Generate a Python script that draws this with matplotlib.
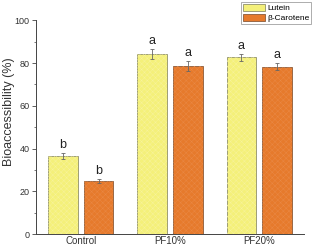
import numpy as np
import matplotlib
matplotlib.use('Agg')
from matplotlib import pyplot as plt

# data
groups = ['Control', 'PF10%', 'PF20%']
lutein = [36.5, 84.2, 82.7]
lutein_err = [1.3, 2.3, 1.7]
carotene = [24.8, 78.6, 78.3]
carotene_err = [1.0, 2.2, 1.5]
lutein_sig = ['b', 'a', 'a']
carotene_sig = ['b', 'a', 'a']

plt.rcParams['font.family'] = ['Liberation Sans', 'DejaVu Sans']
plt.rcParams['hatch.linewidth'] = 0.3

fig = plt.figure(figsize=(3.12, 2.47), dpi=100)
ax = fig.add_axes([0.1154, 0.0526, 0.8586, 0.8654])

x = np.arange(len(groups))
w = 0.33
off = 0.2

yellow = '#f4f07a'
orange = '#e67a2c'

b1 = ax.bar(x - off, lutein, w, color=yellow, edgecolor='#8f8f6a', linewidth=0.6,
            label='Lutein', zorder=2)
b2 = ax.bar(x + off, carotene, w, color=orange, edgecolor='#8a5a3a', linewidth=0.6,
            label='β-Carotene', zorder=2)
# fine texture on the bars
ax.bar(x - off, lutein, w, color='none', edgecolor='#f8f4a0', linewidth=0, hatch='xxxxxx', zorder=2.5)
ax.bar(x + off, carotene, w, color='none', edgecolor='#ea8a48', linewidth=0, hatch='xxxxxx', zorder=2.5)

ax.errorbar(x - off, lutein, yerr=lutein_err, fmt='none', ecolor='#666666',
            elinewidth=0.6, capsize=1.5, capthick=0.6, zorder=3)
ax.errorbar(x + off, carotene, yerr=carotene_err, fmt='none', ecolor='#666666',
            elinewidth=0.6, capsize=1.5, capthick=0.6, zorder=3)

for i in range(len(groups)):
    ax.annotate(lutein_sig[i], (x[i] - off, lutein[i] + lutein_err[i]), xytext=(0, 1.5),
                textcoords='offset points', ha='center', va='bottom', fontsize=9, color='#222222')
    ax.annotate(carotene_sig[i], (x[i] + off, carotene[i] + carotene_err[i]), xytext=(0, 1.5),
                textcoords='offset points', ha='center', va='bottom', fontsize=9, color='#222222')

ax.set_xlim(-0.5, 2.5)
ax.set_ylim(0, 100)
ax.set_yticks([0, 20, 40, 60, 80, 100])
ax.set_yticks([10, 30, 50, 70, 90], minor=True)
ax.set_xticks(x)
ax.set_xticklabels(groups)

ax.spines['top'].set_visible(False)
ax.spines['right'].set_visible(False)
for s in ['left', 'bottom']:
    ax.spines[s].set_color('#444444')
    ax.spines[s].set_linewidth(0.7)

ax.tick_params(axis='y', which='major', length=3, width=0.6, labelsize=6.5,
               colors='#444444', labelcolor='#333333', pad=1.5)
ax.tick_params(axis='y', which='minor', length=1.5, width=0.5, colors='#444444')
ax.tick_params(axis='x', length=0, labelsize=7, labelcolor='#333333', pad=1.5)

ax.set_ylabel('Bioaccessibility (%)', fontsize=9, color='#333333')
ax.yaxis.set_label_coords(-0.08, 0.57)

leg = fig.legend(handles=[b1, b2], loc='upper right', bbox_to_anchor=(0.998, 0.993),
                 fontsize=6, frameon=True, fancybox=False, edgecolor='#888888',
                 handlelength=2.6, handleheight=1.0, handletextpad=0.3,
                 borderpad=0.25, labelspacing=0.15, borderaxespad=0)
leg.get_frame().set_linewidth(0.6)

fig.savefig('out.png', dpi=100)
